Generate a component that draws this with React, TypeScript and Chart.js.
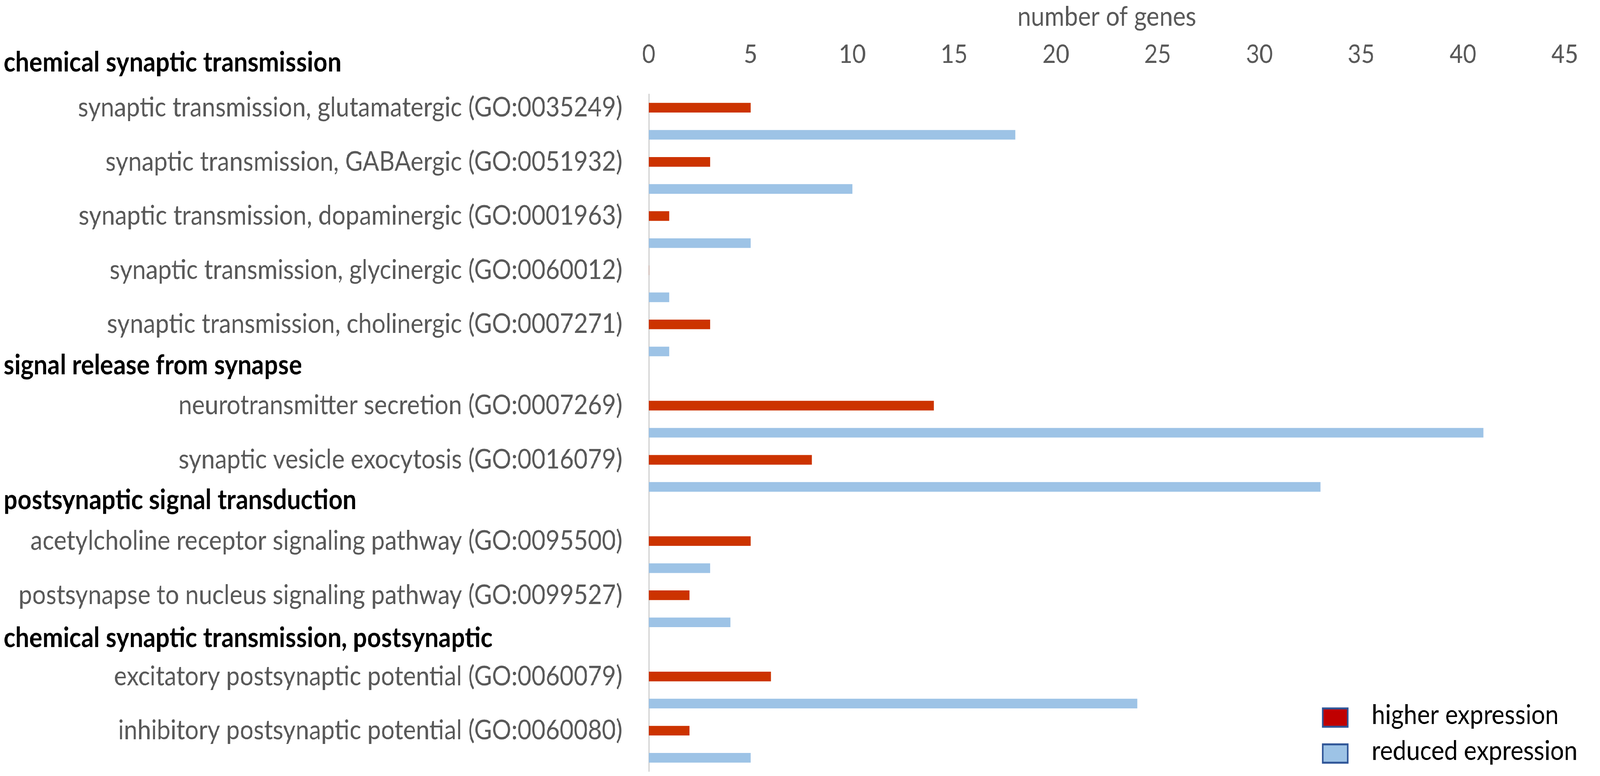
import { useEffect, useRef } from "react"
import { Chart, registerables } from "chart.js"

Chart.register(...registerables)

// GO term groups (bold headings) and the terms under each
const groups = [
  "chemical synaptic transmission",
  "signal release from synapse",
  "postsynaptic signal transduction",
  "chemical synaptic transmission, postsynaptic",
]

const categories = [
  "synaptic transmission, glutamatergic (GO:0035249)",
  "synaptic transmission, GABAergic (GO:0051932)",
  "synaptic transmission, dopaminergic (GO:0001963)",
  "synaptic transmission, glycinergic (GO:0060012)",
  "synaptic transmission, cholinergic (GO:0007271)",
  "neurotransmitter secretion (GO:0007269)",
  "synaptic vesicle exocytosis (GO:0016079)",
  "acetylcholine receptor signaling pathway (GO:0095500)",
  "postsynapse to nucleus signaling pathway (GO:0099527)",
  "excitatory postsynaptic potential (GO:0060079)",
  "inhibitory postsynaptic potential (GO:0060080)",
]

const categoryGroup = [0, 0, 0, 0, 0, 1, 1, 2, 2, 3, 3]

const higherExpression = [5, 3, 1, 0, 3, 14, 8, 5, 2, 6, 2]
const reducedExpression = [18, 10, 5, 1, 1, 41, 33, 3, 4, 24, 5]

const seriesNames = ["higher expression", "reduced expression"]
const axisTitle = "number of genes"
const xMax = 45
const xStep = 5

// the chart is laid out on a 4550 x 1986 board, then scaled to the window
const BOARD_W = 4550
const BOARD_H = 1986

const FONT = "Lato"
const GRAY = "#595959"
const RED = "#CC3300"
const BLUE = "#9DC3E6"
const LEGEND_FILL = ["#C00000", "#9DC3E6"]
const LEGEND_EDGE = "#2F5597"

// each term takes two rows (one per series), each group one heading row
const slotLabels: string[] = []
const slotHigher: (number | null)[] = []
const slotReduced: (number | null)[] = []
const headerSlots: number[] = []
categories.forEach((name, i) => {
  if (i === 0 || categoryGroup[i - 1] !== categoryGroup[i]) {
    headerSlots.push(slotLabels.length)
    slotLabels.push("")
    slotHigher.push(null)
    slotReduced.push(null)
  }
  slotLabels.push(name)
  slotHigher.push(higherExpression[i])
  slotReduced.push(null)
  slotLabels.push("")
  slotHigher.push(null)
  slotReduced.push(reducedExpression[i])
})

// small vertical nudges so headings sit where the original text boxes were
const headerShift = [-23, -11, -12, -6]

const annotations = {
  id: "annotations",
  afterDraw(chart: any) {
    const { ctx, chartArea } = chart
    const y = chart.scales.y
    ctx.save()
    ctx.textAlign = "left"
    ctx.textBaseline = "alphabetic"
    ctx.fillStyle = "#000"
    ctx.font = `bold 70px ${FONT}`
    groups.forEach((g, i) => {
      ctx.fillText(g, 10, y.getPixelForValue(headerSlots[i]) + headerShift[i])
    })

    // legend, bottom right inside the plot
    const bx = chartArea.right - 688
    const baselines = [chartArea.bottom - 121, chartArea.bottom - 29]
    ctx.font = `69px ${FONT}`
    chart.data.datasets.forEach((ds: any, i: number) => {
      const base = baselines[i]
      ctx.fillStyle = LEGEND_FILL[i]
      ctx.fillRect(bx, base - 40, 71, 47)
      ctx.strokeStyle = LEGEND_EDGE
      ctx.lineWidth = 5
      ctx.strokeRect(bx, base - 40, 71, 47)
      ctx.fillStyle = "#000"
      ctx.fillText(ds.label, bx + 139, base)
    })
    ctx.restore()
  },
}

export default function App() {
  const canvasRef = useRef<HTMLCanvasElement>(null)
  const chartRef = useRef<Chart | null>(null)

  useEffect(() => {
    if (!canvasRef.current) return
    if (chartRef.current) chartRef.current.destroy()

    chartRef.current = new Chart(canvasRef.current, {
      type: "bar",
      data: {
        labels: slotLabels,
        datasets: [
          {
            label: seriesNames[0],
            data: slotHigher,
            backgroundColor: RED,
            barThickness: 24,
            grouped: false,
          },
          {
            label: seriesNames[1],
            data: slotReduced,
            backgroundColor: BLUE,
            barThickness: 24,
            grouped: false,
          },
        ],
      },
      plugins: [annotations],
      options: {
        indexAxis: "y",
        animation: false,
        responsive: true,
        maintainAspectRatio: false,
        layout: { padding: { left: 0, right: 59, top: 0, bottom: 12 } },
        plugins: {
          legend: { display: false },
          tooltip: { enabled: false },
        },
        scales: {
          x: {
            position: "top",
            min: 0,
            max: xMax,
            grid: { display: false, drawTicks: false },
            border: { display: false },
            ticks: {
              stepSize: xStep,
              padding: 62,
              color: GRAY,
              font: { family: FONT, size: 66 },
            },
            title: {
              display: true,
              text: axisTitle,
              color: GRAY,
              padding: { top: 2, bottom: 0 },
              font: { family: FONT, size: 69 },
            },
            afterFit: (scale: any) => {
              scale.height = 241
            },
          },
          y: {
            type: "category",
            min: 1,
            offset: true,
            grid: { display: false, drawTicks: false },
            border: { display: true, color: "#D0D0D0", width: 3 },
            ticks: {
              autoSkip: false,
              padding: 75,
              color: GRAY,
              font: { family: FONT, size: 69 },
              callback: (value: any) => slotLabels[value as number],
            },
            afterFit: (scale: any) => {
              scale.width = 1845
              // let the plot run to the bottom edge, as in the original
              scale.paddingTop = 0
              scale.paddingBottom = 0
            },
          },
        },
      },
    })

    return () => {
      if (chartRef.current) {
        chartRef.current.destroy()
        chartRef.current = null
      }
    }
  }, [])

  const sx = window.innerWidth / BOARD_W
  const sy = window.innerHeight / BOARD_H

  return (
    <div
      style={{
        position: "fixed",
        left: 0,
        top: 0,
        width: BOARD_W,
        height: BOARD_H,
        background: "#fff",
        transformOrigin: "0 0",
        transform: `scale(${sx}, ${sy})`,
      }}
    >
      <canvas ref={canvasRef}></canvas>
    </div>
  )
}
